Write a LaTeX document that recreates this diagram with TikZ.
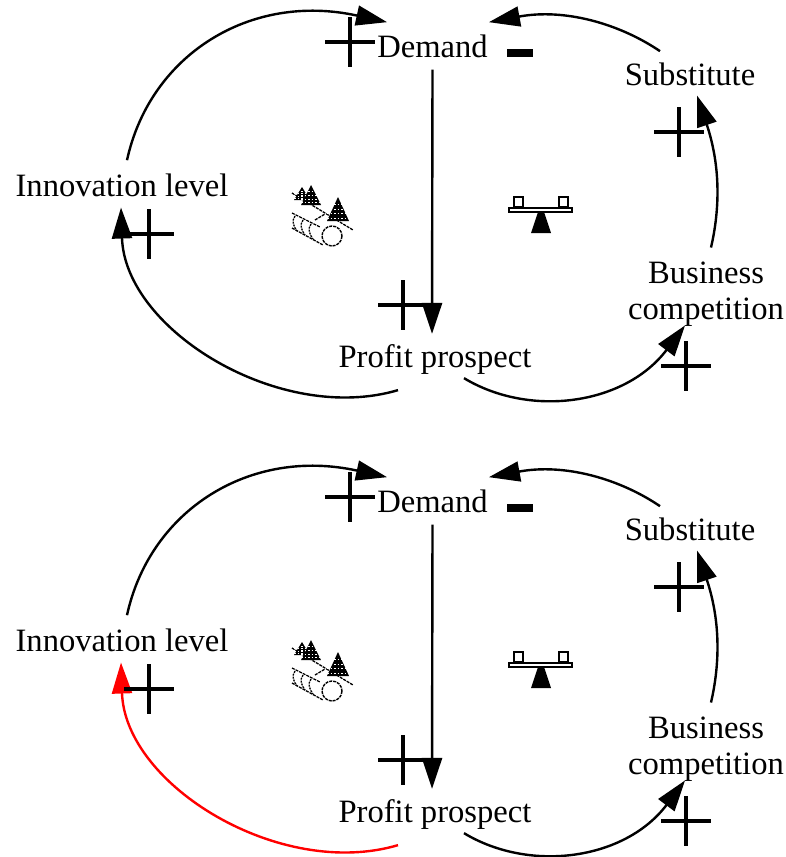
\documentclass[tikz,border=0pt]{standalone}
\usepackage{fontspec}
\setmainfont{Liberation Serif}
\usetikzlibrary{arrows.meta}
\tikzset{
  lbl/.style={inner sep=0pt,font=\fontsize{32.6}{36}\selectfont,anchor=base},
  link/.style={line width=2.4pt,-{Triangle[length=31pt,width=20pt]}},
  signmark/.style={line width=4pt},
}
\newcommand{\plusmark}[2]{\draw[signmark] (#1-25,#2) -- (#1+25,#2) (#1,#2-25) -- (#1,#2+25);}
\newcommand{\treemark}[4]{%
  \fill (#1,#2) -- (#1+#3,#2+#4) -- (#1-#3,#2+#4) -- cycle;
  \foreach \k in {.3,.5,.7,.88}{\draw[white,line width=.7pt,dash pattern=on 1.5pt off 2pt] (#1-#3,#2+#4*\k) -- (#1+#3,#2+#4*\k);}
}
\newcommand{\loopdiagram}[3]{%
\begin{scope}[shift={(0,#2)}]
  \node[lbl] (#1dem) at (432.5,57) {Demand};
  \node[lbl] (#1sub) at (690,85) {Substitute};
  \node[lbl] (#1inn) at (122,196) {Innovation level};
  \node[lbl] (#1pro) at (435,367) {Profit prospect};
  \node[inner sep=0pt,font=\fontsize{32.6}{36}\selectfont,align=center,anchor=center] (#1bus) at (706,294) {Business\\competition};
  \draw[link] ([shift={(5,-13)}]#1inn.north) .. controls (150,55) and (250,-8) .. ([shift={(10,-12)}]#1dem.north west);
  \draw[link] ([shift={(-30,-11)}]#1sub.north) .. controls (620,24) and (565,8) .. ([shift={(1,-12)}]#1dem.north east);
  \draw[link] ([shift={(5,-14)}]#1bus.north) .. controls (722,200) and (718,158) .. ([shift={(7,10)}]#1sub.south);
  \draw[link] ([shift={(29,4)}]#1pro.south) .. controls (530,418) and (625,405) .. ([shift={(-21,-1)}]#1bus.south);
  \draw[link] ([shift={(0,12)}]#1dem.south) -- ([shift={(-3,-10)}]#1pro.north);
  \draw[link,#3] ([shift={(-37,16)}]#1pro.south) .. controls (280,425) and (125,330) .. ([shift={(-1,11)}]#1inn.south);
  \plusmark{350}{42}
  \plusmark{403}{305}
  \plusmark{686}{366}
  \plusmark{149}{234}
  \plusmark{679}{132}
  \fill (507,49) rectangle (533,57);
  % balance icon
  \draw[line width=1.8pt] (514,197) rectangle (523,207) (559,197) rectangle (568,207);
  \draw[line width=1.8pt] (509,208) rectangle (572,212);
  \fill (538,212) -- (544,212) -- (551,233) -- (531,233) -- cycle;
  % tree and conveyor icon
  \draw[line width=1.3pt,dash pattern=on 3pt off 1pt] (292,193) -- (353,230);
  \treemark{302}{187}{8}{13}
  \treemark{311}{185}{10}{20}
  \treemark{338}{197}{11}{24}
  \draw[line width=1.4pt,dash pattern=on 3pt off 1pt] (332,236) circle (10);
  \draw[line width=1.3pt,dash pattern=on 3pt off 1pt] (292,213) -- (320,227) (292,228) -- (323,245) (315,220) -- (325,214);
  \foreach \d in {0,8,16}{\draw[line width=1.3pt,dash pattern=on 2pt off 1pt] (295+\d,216+\d*.5) .. controls (291+\d,221+\d*.5) and (294+\d,227+\d*.5) .. (297+\d,231+\d*.5);}
\end{scope}}
\begin{document}
\begin{tikzpicture}[x=1pt,y=-1pt]
  \useasboundingbox (0,0) rectangle (786,857);
  \loopdiagram{a}{0}{black}
  \loopdiagram{b}{455}{red}
\end{tikzpicture}
\end{document}
